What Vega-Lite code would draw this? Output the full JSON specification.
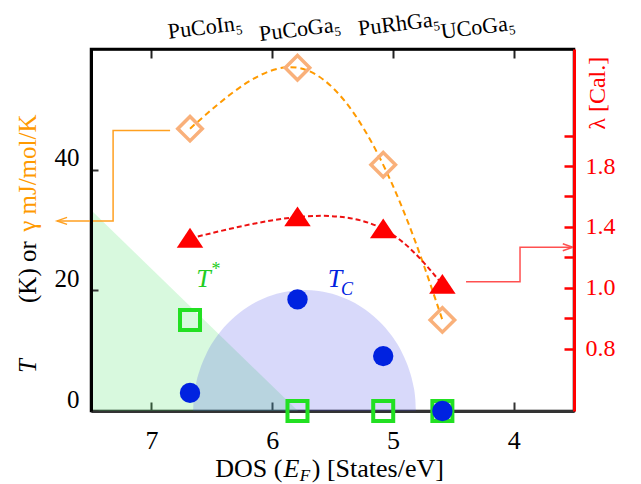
{
  "$schema": "https://vega.github.io/schema/vega-lite/v6.json",
  "width": 483,
  "height": 362,
  "autosize": {"type": "none"},
  "padding": {"left": 91, "top": 49, "right": 67, "bottom": 73},
  "background": "white",
  "config": {
    "view": {"stroke": "black", "strokeWidth": 2.5},
    "font": "Liberation Serif",
    "text": {"font": "Liberation Serif"}
  },
  "resolve": {"scale": {"y": "independent"}, "axis": {"x": "independent"}},
  "layer": [
    {
      "encoding": {
        "x": {
          "field": "x", "type": "quantitative",
          "scale": {"domain": [3.5, 7.5], "reverse": true, "nice": false, "zero": false},
          "axis": {
            "orient": "bottom", "values": [4, 5, 6, 7], "format": "d", "title": null, "grid": false,
            "labelFont": "Liberation Serif", "labelFontSize": 26, "labelColor": "black",
            "tickSize": -9, "tickWidth": 2, "tickColor": "#333", "labelPadding": 25,
            "domainColor": "#333", "domainWidth": 3, "zindex": 0
          }
        },
        "y": {
          "field": "y", "type": "quantitative",
          "scale": {"domain": [0, 60], "nice": false, "zero": false},
          "axis": {
            "orient": "left", "values": [0, 20, 40], "format": "d", "title": null, "grid": false,
            "labelFont": "Liberation Serif", "labelFontSize": 25, "labelColor": "black",
            "tickSize": -7, "tickWidth": 2, "tickColor": "#333", "labelPadding": 19, "labelOffset": -12,
            "domainColor": "black", "domainWidth": 3, "zindex": 1
          }
        }
      },
      "layer": [
        {
          "data": {"values": [{"x": 7.5, "y": 33.3}, {"x": 5.785, "y": 0}]},
          "mark": {"type": "area", "color": "#3ee05a", "opacity": 0.2}
        },
        {
          "data": {"values": [
            {"x": 6.654, "y": 0}, {"x": 6.65, "y": 1.86}, {"x": 6.63, "y": 4.55}, {"x": 6.6, "y": 6.77},
            {"x": 6.55, "y": 9.26}, {"x": 6.45, "y": 12.59}, {"x": 6.35, "y": 14.89}, {"x": 6.2, "y": 17.29},
            {"x": 6.0, "y": 19.2}, {"x": 5.85, "y": 19.9}, {"x": 5.732, "y": 20.07}, {"x": 5.614, "y": 19.9},
            {"x": 5.464, "y": 19.2}, {"x": 5.264, "y": 17.29}, {"x": 5.114, "y": 14.89}, {"x": 5.014, "y": 12.59},
            {"x": 4.914, "y": 9.26}, {"x": 4.864, "y": 6.77}, {"x": 4.834, "y": 4.55}, {"x": 4.814, "y": 1.86},
            {"x": 4.81, "y": 0}
          ]},
          "mark": {"type": "area", "color": "#3a3fe8", "opacity": 0.2, "interpolate": "monotone"}
        },
        {
          "data": {"values": [{"x": 6.68, "y": 46.8}, {"x": 5.79, "y": 56.9}, {"x": 5.08, "y": 40.8}, {"x": 4.59, "y": 15.1}]},
          "mark": {"type": "line", "color": "#ff9a00", "strokeWidth": 2, "strokeDash": [6, 4], "interpolate": "natural"}
        },
        {
          "data": {"values": [{"x": 6.845, "y": 46.48, "o": 1}, {"x": 7.317, "y": 46.48, "o": 2}, {"x": 7.317, "y": 31.51, "o": 3}, {"x": 7.781, "y": 31.51, "o": 4}]},
          "mark": {"type": "line", "color": "#ffa020", "strokeWidth": 1.5},
          "encoding": {"order": {"field": "o", "type": "quantitative"}}
        },
        {
          "data": {"values": [{"x": 7.781, "y": 31.51}]},
          "mark": {"type": "point", "shape": "M2,-0.7L0,0L2,0.7", "size": 100, "filled": false, "stroke": "#ffa020", "strokeWidth": 1.5, "opacity": 1}
        },
        {
          "data": {"values": [{"x": 6.68, "y": 46.8}, {"x": 5.79, "y": 56.9}, {"x": 5.08, "y": 40.8}, {"x": 4.59, "y": 15.1}]},
          "mark": {"type": "point", "shape": "diamond", "size": 600, "filled": false, "stroke": "#f9b07a", "strokeWidth": 3.5, "opacity": 1}
        },
        {
          "data": {"values": [{"x": 6.68, "y": 15.1}, {"x": 5.79, "y": 0}, {"x": 5.08, "y": 0}, {"x": 4.59, "y": 0}]},
          "mark": {"type": "point", "shape": "square", "size": 400, "filled": false, "stroke": "#22e022", "strokeWidth": 4, "opacity": 1}
        },
        {
          "data": {"values": [{"x": 6.68, "y": 3.0}, {"x": 5.79, "y": 18.5}, {"x": 5.08, "y": 9.1}, {"x": 4.59, "y": 0}]},
          "mark": {"type": "point", "shape": "circle", "size": 415, "filled": true, "color": "#0022e0", "opacity": 1}
        },
        {
          "data": {"values": [{"x": 6.555, "y": 63.6, "t": "PuCoIn₅"}, {"x": 5.769, "y": 63.3, "t": "PuCoGa₅"}, {"x": 4.949, "y": 64.2, "t": "PuRhGa₅"}, {"x": 4.295, "y": 63.6, "t": "UCoGa₅"}]},
          "mark": {"type": "text", "fontSize": 22, "angle": 353, "align": "center", "baseline": "middle", "color": "black"},
          "encoding": {"text": {"field": "t"}}
        },
        {
          "data": {"values": [{"x": 8.021, "y": 6.3, "t": "T"}]},
          "mark": {"type": "text", "fontSize": 25, "fontStyle": "italic", "angle": 270, "align": "left", "baseline": "middle", "color": "black"},
          "encoding": {"text": {"field": "t"}}
        },
        {
          "data": {"values": [{"x": 8.021, "y": 17.9, "t": "(K) or"}]},
          "mark": {"type": "text", "fontSize": 25, "angle": 270, "align": "left", "baseline": "middle", "color": "black"},
          "encoding": {"text": {"field": "t"}}
        },
        {
          "data": {"values": [{"x": 8.021, "y": 29.7, "t": "γ mJ/mol/K"}]},
          "mark": {"type": "text", "fontSize": 25, "angle": 270, "align": "left", "baseline": "middle", "color": "#ff9a00"},
          "encoding": {"text": {"field": "t"}}
        },
        {
          "data": {"values": [{"x": 6.472, "y": -9.6, "t": "DOS ("}, {"x": 5.672, "y": -9.6, "t": ") [States/eV]"}]},
          "mark": {"type": "text", "fontSize": 26, "align": "left", "baseline": "middle", "color": "black"},
          "encoding": {"text": {"field": "t"}}
        },
        {
          "data": {"values": [{"x": 5.905, "y": -9.6, "t": "E"}]},
          "mark": {"type": "text", "fontSize": 26, "fontStyle": "italic", "align": "left", "baseline": "middle", "color": "black"},
          "encoding": {"text": {"field": "t"}}
        },
        {
          "data": {"values": [{"x": 5.772, "y": -10.7, "t": "F"}]},
          "mark": {"type": "text", "fontSize": 17, "fontStyle": "italic", "align": "left", "baseline": "middle", "color": "black"},
          "encoding": {"text": {"field": "t"}}
        },
        {
          "data": {"values": [{"x": 6.568, "y": 21.9, "t": "T"}]},
          "mark": {"type": "text", "fontSize": 26, "fontStyle": "italic", "align": "center", "baseline": "middle", "color": "#22cc22"},
          "encoding": {"text": {"field": "t"}}
        },
        {
          "data": {"values": [{"x": 6.464, "y": 23.3, "t": "*"}]},
          "mark": {"type": "text", "fontSize": 18, "align": "center", "baseline": "middle", "color": "#22cc22"},
          "encoding": {"text": {"field": "t"}}
        },
        {
          "data": {"values": [{"x": 5.479, "y": 21.9, "t": "T"}]},
          "mark": {"type": "text", "fontSize": 26, "fontStyle": "italic", "align": "center", "baseline": "middle", "color": "#0022e0"},
          "encoding": {"text": {"field": "t"}}
        },
        {
          "data": {"values": [{"x": 5.379, "y": 20.0, "t": "C"}]},
          "mark": {"type": "text", "fontSize": 18, "fontStyle": "italic", "align": "center", "baseline": "middle", "color": "#0022e0"},
          "encoding": {"text": {"field": "t"}}
        }
      ]
    },
    {
      "encoding": {
        "x": {
          "field": "x", "type": "quantitative",
          "scale": {"domain": [3.5, 7.5], "reverse": true, "nice": false, "zero": false},
          "axis": {
            "orient": "top", "values": [4, 5, 6, 7], "labels": false, "title": null, "grid": false,
            "tickSize": -9, "tickWidth": 2, "tickColor": "#222",
            "domainColor": "black", "domainWidth": 2.5, "zindex": 1
          }
        },
        "y": {
          "field": "y", "type": "quantitative",
          "scale": {"domain": [0.189, 2.57], "nice": false, "zero": false},
          "axis": {
            "orient": "right", "values": [0.6, 0.8, 1.0, 1.2, 1.4, 1.6, 1.8, 2.0], "title": null, "grid": false,
            "labelExpr": "abs(datum.value-1.8)<0.01 ? '1.8' : abs(datum.value-1.4)<0.01 ? '1.4' : abs(datum.value-1.0)<0.01 ? '1.0' : abs(datum.value-0.6)<0.01 ? '0.8' : ''",
            "labelFont": "Liberation Serif", "labelFontSize": 24, "labelColor": "red",
            "tickSize": -10, "tickWidth": 2.5, "tickColor": "red", "labelPadding": 21,
            "domainColor": "red", "domainWidth": 3, "zindex": 1
          }
        }
      },
      "layer": [
        {
          "data": {"values": [{"x": 6.68, "y": 1.324}, {"x": 5.79, "y": 1.465}, {"x": 5.08, "y": 1.386}, {"x": 4.59, "y": 1.021}]},
          "mark": {"type": "line", "color": "#ee1111", "strokeWidth": 2, "strokeDash": [5, 3], "interpolate": "natural"}
        },
        {
          "data": {"values": [{"x": 4.394, "y": 1.039, "o": 1}, {"x": 3.947, "y": 1.039, "o": 2}, {"x": 3.947, "y": 1.266, "o": 3}, {"x": 3.51, "y": 1.266, "o": 4}]},
          "mark": {"type": "line", "color": "#ff5050", "strokeWidth": 1.5},
          "encoding": {"order": {"field": "o", "type": "quantitative"}}
        },
        {
          "data": {"values": [{"x": 3.51, "y": 1.266}]},
          "mark": {"type": "point", "shape": "M-2,-0.7L0,0L-2,0.7", "size": 100, "filled": false, "stroke": "#ff5050", "strokeWidth": 1.5, "opacity": 1}
        },
        {
          "data": {"values": [{"x": 6.68, "y": 1.324}, {"x": 5.79, "y": 1.465}, {"x": 5.08, "y": 1.386}, {"x": 4.59, "y": 1.021}]},
          "mark": {"type": "point", "shape": "M0,-0.8L-1,0.7L1,0.7Z", "size": 700, "filled": true, "color": "#ff0000", "opacity": 1}
        },
        {
          "data": {"values": [{"x": 3.301, "y": 2.279, "t": "λ [Cal.]"}]},
          "mark": {"type": "text", "fontSize": 24, "angle": 270, "align": "center", "baseline": "middle", "color": "red"},
          "encoding": {"text": {"field": "t"}}
        }
      ]
    }
  ]
}
